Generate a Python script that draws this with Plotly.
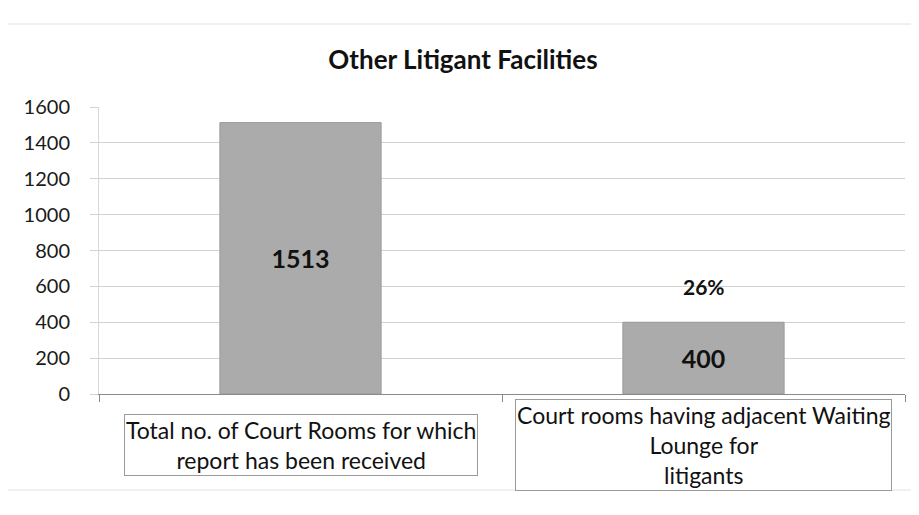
import plotly.graph_objects as go

title = "Other Litigant Facilities"
categories = ["Total no. of Court Rooms for which<br>report has been received",
              "Court rooms having adjacent Waiting<br>Lounge for<br>litigants"]
values = [1513, 400]
pct_labels = ["", "26%"]
y_ticks = [0, 200, 400, 600, 800, 1000, 1200, 1400, 1600]

FONT = "Lato"
OFF = 8  # default page body margin

W, H = 919 - OFF, 515 - OFF
L, R, T, B = 99 - OFF, 14, 107 - OFF, 121
pw, ph = W - L - R, H - T - B

fig = go.Figure()
fig.add_trace(go.Bar(
    x=[0, 1], y=values,
    marker=dict(color="#ababab", line=dict(color="#999999", width=1)),
    text=[str(v) for v in values], textposition="inside", insidetextanchor="middle",
    textfont=dict(family=FONT, size=25, color="#111111", weight="bold"),
    width=0.4, showlegend=False, hoverinfo="skip",
))

for i, (v, p) in enumerate(zip(values, pct_labels)):
    if p:
        fig.add_annotation(x=i, y=v, text="<b>" + p + "</b>", showarrow=False,
                           yshift=36, font=dict(family=FONT, size=21, color="#111111"))

for i, c in enumerate(categories):
    fig.add_annotation(x=i, y=0, xref="x", yref="y", text=c, showarrow=False,
                       yanchor="middle", yshift=-51,
                       font=dict(family=FONT, size=23, color="#111111"),
                       bordercolor="#9a9a9a", borderwidth=1, borderpad=1, bgcolor="white",
                       align="center")

def px_x(x):
    return (x - L) / pw

def px_y(y):
    return (T + ph - y) / ph

fig.update_layout(
    width=W, height=H,
    margin=dict(l=L, r=R, t=T, b=B),
    paper_bgcolor="white", plot_bgcolor="white",
    title=dict(text=title, xref="container", x=(463 - OFF) / W, xanchor="center",
               y=1 - (60 - OFF) / H, yanchor="middle",
               font=dict(family=FONT, size=26, color="#111111", weight="bold")),
    xaxis=dict(range=[-0.5, 1.5], tickvals=[-0.5, 0.5, 1.5], showticklabels=False,
               ticks="outside", ticklen=7, tickcolor="#8a8a8a",
               showgrid=False, zeroline=False, showline=True, linecolor="#8a8a8a"),
    yaxis=dict(range=[0, 1600], tickvals=y_ticks, ticks="outside", ticklen=8,
               tickcolor="#d2d2d2",
               tickfont=dict(family=FONT, size=20, color="#1a1a1a"),
               showgrid=True, gridcolor="#d2d2d2", gridwidth=1,
               zeroline=False, showline=True, linecolor="#d8d8d8", ticklabelstandoff=16),
    shapes=[dict(type="rect", xref="paper", yref="paper",
                 x0=px_x(7 - OFF), x1=px_x(930), y0=px_y(490 - OFF), y1=px_y(24 - OFF),
                 line=dict(color="#e2e2e2", width=1))],
    bargap=0.6,
)

fig.write_html("out.html")
